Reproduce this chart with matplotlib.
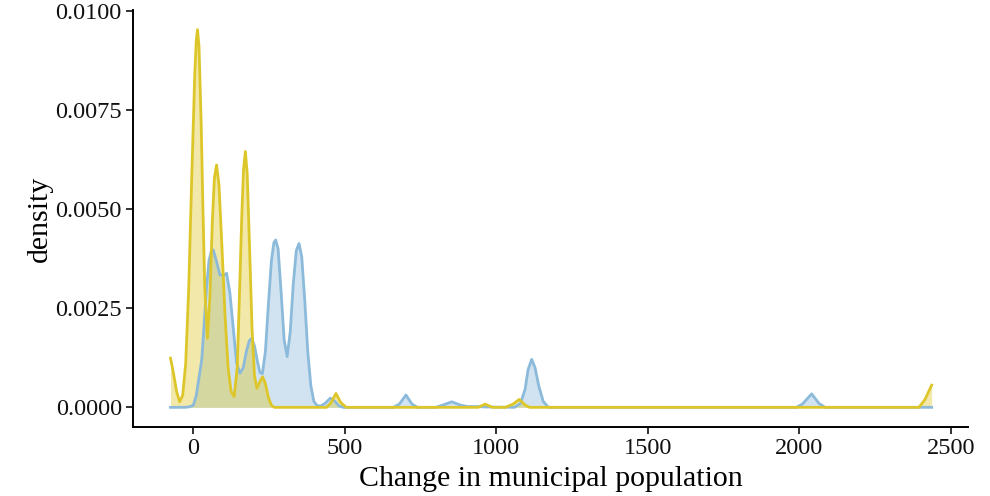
import matplotlib
matplotlib.use("Agg")
import matplotlib.pyplot as plt
from matplotlib.ticker import FormatStrFormatter

# density curves (x = change in population, y = density)
blue_x = [-75, -30, -15, 0, 10, 20, 28, 36, 44, 52, 60, 66, 76, 88, 100, 110, 121,
          132, 143, 154, 165, 175, 185, 193, 202, 212, 220, 228, 238, 248, 258,
          266, 272, 280, 290, 300, 310, 320, 330, 340, 349, 358, 368, 378, 388,
          398, 408, 420, 435, 452, 468, 480, 495, 660, 680, 702, 722, 740, 800,
          825, 853, 880, 905, 940, 960, 1060, 1080, 1095, 1105, 1117, 1128, 1140,
          1155, 1172, 1990, 2010, 2041, 2065, 2085, 2437]
blue_y = [0.0, 0.0, 0.00001, 0.00005, 0.00030, 0.00080, 0.00120, 0.00210, 0.00304,
          0.00370, 0.00395, 0.00397, 0.00370, 0.00334, 0.00332, 0.00338, 0.00288,
          0.00200, 0.00112, 0.00086, 0.00100, 0.00140, 0.00168, 0.00174, 0.00155,
          0.00115, 0.00088, 0.00085, 0.00140, 0.00260, 0.00370, 0.00415, 0.00422,
          0.00400, 0.00290, 0.00170, 0.00128, 0.00190, 0.00310, 0.00395, 0.00413,
          0.00380, 0.00270, 0.00140, 0.00055, 0.00015, 0.00005, 0.00003, 0.00010,
          0.00023, 0.00015, 0.00004, 0.0, 0.0, 0.00008, 0.00031, 0.00008, 0.0, 0.0,
          0.00006, 0.00014, 0.00006, 0.00002, 0.00002, 0.00001, 0.0, 0.00010,
          0.00045, 0.00095, 0.00121, 0.00100, 0.00055, 0.00015, 0.0, 0.0, 0.00008,
          0.00034, 0.00010, 0.0, 0.0]

yellow_x = [-75, -65, -55, -45, -35, -25, -15, -5, 5, 10, 14, 19, 26, 32, 38, 47,
            55, 63, 70, 77, 85, 95, 105, 115, 125, 135, 145, 152, 160, 166, 172,
            178, 186, 194, 202, 210, 220, 229, 238, 248, 258, 268, 440, 455, 471,
            487, 505, 940, 963, 988, 1030, 1055, 1076, 1095, 1110, 2395, 2415, 2437]
yellow_y = [0.00124, 0.00085, 0.00040, 0.00014, 0.00030, 0.00110, 0.00300, 0.00580,
            0.00840, 0.00925, 0.00952, 0.00910, 0.00720, 0.00500, 0.00300, 0.00174,
            0.00280, 0.00470, 0.00580, 0.00611, 0.00560, 0.00400, 0.00230, 0.00100,
            0.00040, 0.00027, 0.00100, 0.00270, 0.00480, 0.00600, 0.00645, 0.00590,
            0.00400, 0.00200, 0.00080, 0.00048, 0.00065, 0.00077, 0.00060, 0.00025,
            0.00005, 0.0, 0.0, 0.00012, 0.00035, 0.00012, 0.0, 0.0, 0.00008, 0.0,
            0.0, 0.00008, 0.00020, 0.00006, 0.0, 0.0, 0.00020, 0.00056]

x_ticks = [0, 500, 1000, 1500, 2000, 2500]
y_ticks = [0.0, 0.0025, 0.005, 0.0075, 0.01]

plt.rcParams['font.family'] = ['Liberation Serif', 'DejaVu Serif']

blue = '#8cbadb'
yellow = '#ddc62a'

fig = plt.figure(figsize=(9.9, 4.96), dpi=100)
ax = fig.add_axes([0.1343, 0.139, 0.8435, 0.841])

ax.fill_between(blue_x, blue_y, color=blue, alpha=0.4, lw=0)
ax.plot(blue_x, blue_y, color=blue, lw=2)
ax.fill_between(yellow_x, yellow_y, color=yellow, alpha=0.4, lw=0)
ax.plot(yellow_x, yellow_y, color=yellow, lw=2)

ax.set_xlim(-199, 2557)
ax.set_ylim(-0.000497, 0.01002)
ax.set_xticks(x_ticks)
ax.set_yticks(y_ticks)
ax.yaxis.set_major_formatter(FormatStrFormatter('%.4f'))

for side in ['top', 'right']:
    ax.spines[side].set_visible(False)
for side in ['left', 'bottom']:
    ax.spines[side].set_linewidth(1.4)
ax.tick_params(labelsize=17.5, length=5, width=1.2, colors='#111111',
               labelcolor='#111111', pad=3)

ax.set_xlabel('Change in municipal population', fontsize=21.5, labelpad=5)
ax.set_ylabel('density', fontsize=21.5, labelpad=2)

fig.savefig('out.png', dpi=100)
